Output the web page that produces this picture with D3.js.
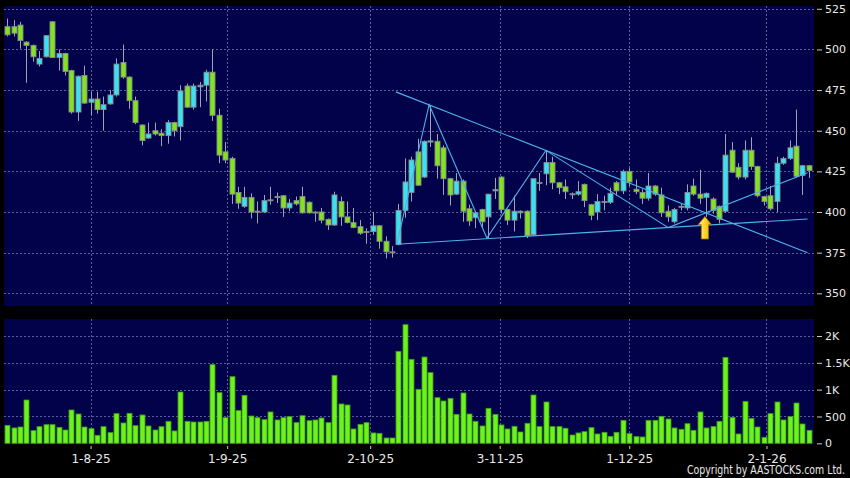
<!DOCTYPE html>
<html>
<head>
<meta charset="utf-8">
<script src="https://cdn.jsdelivr.net/npm/d3@7"></script>
<style>
  body { margin: 0; background: #000; }
  svg { display: block; font-family: "DejaVu Sans", sans-serif; }
</style>
</head>
<body>
<div id="chart"></div>
<script>
// daily bars, oldest first
var open = [514,514,515,504.5,502.5,491,495.5,517,495,497.5,
  487,461.5,484,467.5,469.5,463,466.5,472,492,483,
  468.5,453.5,445.5,450,448.5,447,455,452.5,477.5,464.5,
  477,478,486,459.5,437,433,412,403.5,409,400.5,
  400,407.5,409,410,402.5,407,409.5,406,400,400,
  395.5,392,406.5,397,393.5,391,388,388,391.5,382,
  375.5,380,401,412,437,421.5,443,443.5,439.5,420.5,
  411,419,402,396.5,401.5,397,413,421.5,401.5,395,
  399.5,400.5,386,418,423.5,430.5,418,415.5,411,411,
  417,404.5,400,406.5,406,418,413,425,414,412,
  408.5,416,410.5,400.5,394,403,402.5,416,411,409,
  408,403.5,400.5,438,427.5,421.5,438,428,409.5,410,
  406.5,430,433,440.5,422.5,428.5];
var high = [519,518,517,505,503,499,508.5,517.5,500,498,
  487.5,484,490,474,474,471,475,494.5,503,483.5,
  471,454,455,455,451,456.5,455.5,478,479,479,
  480,487.5,500,463.5,443,434,415.5,415.5,411.5,406.5,
  410.5,415.5,412,410.5,408,409.5,415.5,406.5,400.5,402.5,
  396,412.5,409.5,406.5,402.5,395,390,400,392,385,
  379,405,433,434,445,444,465.5,448,441,421,
  424,420,404.5,399.5,402,411,421,422,402,410,
  401,401,420.5,424,438,434,418.5,420,412,419,
  417.5,405,411,410,415,419,426,427,420,414,
  424,416.5,415,404,402.5,405,417,420.5,426,412,
  409,404,448,443,430,444,446,428.5,410,416,
  434,434,444,463,429,429];
var low = [508,508,500.5,479.5,492.5,489.5,495,495,487,484,
  460.5,456,466.5,459.5,460.5,450,466,471,482,463.5,
  454,441,445,447,440.5,442,446.5,444,464,463,
  464.5,468,456,430,430,405,402,402.5,396,393,
  399.5,404.5,405.5,397,400.5,404,399,399,394,393,
  389,391.5,391.5,393,390,386,380.5,386,377.5,371.5,
  372,379.5,396.5,406.5,416,421,440,420.5,410.5,404,
  410.5,394,391.5,390,390,384,408,399,392,388,
  396,384,385.5,413,416.5,414,411,408,408,410,
  403,395,395,401,405,410,411,416,411,405,
  407,410,397,394,393,401,401,410,405,397,
  399,393,399.5,424,420,420,426,409,404,401,
  400,429,432,421,410.5,421];
var close = [509,510,505.5,502.5,495.5,494.5,508.5,495,497.5,486.5,
  461.5,483.5,467,469.5,463,466,472,491,483,468.5,
  455,444,448,448,447,455,450,474.5,464.5,477.5,
  478,486,459.5,435,432,411,405.5,409,400,400,
  407,407,409.5,402.5,405.5,405,399.5,399.5,399.8,395,
  392,410.5,397,393.5,390.5,387,387.8,391.5,382,375.5,
  375,401,418.5,432,416.5,443.5,443.8,428.5,420.5,410.5,
  419,400.5,394.5,399.5,394,411,413.8,401.5,395,400.5,
  400.5,385.5,420.5,418.2,430.5,418,415,412.5,411.2,412.5,
  407,398,406.5,406.5,411.5,413,425,418.5,412.5,408.5,
  416,411,399.5,397,401.5,403.5,412,411,408.5,411.5,
  401,395.5,435,424.5,421.5,438,428,410,406.5,402,
  430,433,439.5,422,428.5,425.5];
var volume = [335,286,304,807,236,310,348,348,298,248,
  621,546,304,273,149,310,199,553,379,559,
  329,528,323,248,310,410,230,956,410,397,
  397,410,1466,944,478,1242,609,894,509,478,
  441,584,435,478,497,385,515,422,435,472,
  385,1267,733,714,267,354,385,193,186,99,
  99,1714,2211,1565,1006,1608,1317,851,789,838,
  540,938,546,410,323,652,540,342,267,317,
  211,373,900,311,770,311,311,280,155,193,
  217,292,174,205,130,205,428,180,124,118,
  428,428,503,453,286,261,366,242,584,286,
  311,410,1602,484,174,782,466,304,112,553,
  770,435,497,751,360,242];

// axis ticks
var dateLabels = ["1-8-25", "1-9-25", "2-10-25", "3-11-25", "1-12-25", "2-1-26"];
var dateIdx = [13, 34.3, 56.6, 76.8, 97, 118.4];
var priceTicks = [350, 375, 400, 425, 450, 475, 500, 525];
var volTicks = [0, 500, 1000, 1500, 2000];
var volLabels = ["0", "500", "1K", "1.5K", "2K"];

// drawn pattern lines, in (bar index, price)
var supportLine = [[60.75, 380.2], [124.8, 395.7]];
var resistLine = [[60.6, 473.9], [124.8, 375.0]];
var zigIdx = [60.75, 65.8, 74.8, 84.0, 103.1, 124.8];
var zigPrice = [380.2, 466.0, 384.0, 437.9, 390.4, 424.2];
var arrowIdx = 108.8, arrowPrice = 397.3;

var width = 850, height = 478;
var px = {left: 4, right: 814, top: 6, bottom: 306};
var vx = {top: 319, bottom: 444};

var svg = d3.select("#chart").append("svg")
    .attr("width", width)
    .attr("height", height);

svg.append("rect").attr("width", width).attr("height", height).attr("fill", "#000");

var x = d3.scaleLinear().domain([-0.5, open.length - 0.5]).range([4, 812]);
var y = d3.scaleLinear().domain([350, 525]).range([293.3, 8.8]);
var yv = d3.scaleLinear().domain([0, 2000]).range([443.3, 336]);

var navy = "#02024a", grid = "#5c5ca0";

// panels
svg.append("rect").attr("x", px.left).attr("y", px.top)
  .attr("width", px.right - px.left).attr("height", px.bottom - px.top).attr("fill", navy);
svg.append("rect").attr("x", px.left).attr("y", vx.top)
  .attr("width", px.right - px.left).attr("height", vx.bottom - vx.top).attr("fill", navy);

// grid
var g = svg.append("g").attr("stroke", grid).attr("stroke-dasharray", "2,2").attr("stroke-width", 1);
g.selectAll(".hp").data(priceTicks).enter().append("line")
  .attr("x1", px.left).attr("x2", px.right)
  .attr("y1", function (d) { return Math.round(y(d)) + 0.5; })
  .attr("y2", function (d) { return Math.round(y(d)) + 0.5; });
g.selectAll(".hv").data(volTicks.slice(1)).enter().append("line")
  .attr("x1", px.left).attr("x2", px.right)
  .attr("y1", function (d) { return Math.round(yv(d)) + 0.5; })
  .attr("y2", function (d) { return Math.round(yv(d)) + 0.5; });
g.selectAll(".vp").data(dateIdx).enter().append("line")
  .attr("x1", function (d) { return Math.round(x(d)) + 0.5; })
  .attr("x2", function (d) { return Math.round(x(d)) + 0.5; })
  .attr("y1", px.top).attr("y2", px.bottom);
g.selectAll(".vv").data(dateIdx).enter().append("line")
  .attr("x1", function (d) { return Math.round(x(d)) + 0.5; })
  .attr("x2", function (d) { return Math.round(x(d)) + 0.5; })
  .attr("y1", vx.top).attr("y2", vx.bottom);

// candles
var bars = d3.range(open.length);
var cg = svg.append("g");
cg.selectAll(".wick").data(bars).enter().append("line")
  .attr("x1", function (i) { return Math.round(x(i)) + 0.5; })
  .attr("x2", function (i) { return Math.round(x(i)) + 0.5; })
  .attr("y1", function (i) { return y(high[i]); })
  .attr("y2", function (i) { return y(low[i]); })
  .attr("stroke", "#a2a2b4").attr("stroke-width", 1);
cg.selectAll(".body").data(bars).enter().append("rect")
  .attr("x", function (i) { return Math.round(x(i)) - 2; })
  .attr("width", 5)
  .attr("y", function (i) { return y(Math.max(open[i], close[i])); })
  .attr("height", function (i) { return Math.max(1, Math.abs(y(open[i]) - y(close[i]))); })
  .attr("fill", function (i) { return close[i] >= open[i] ? "#38e2f2" : "#80e41e"; })
  .attr("stroke", "#8a8a8a").attr("stroke-width", 0.9);

// pattern lines
var lc = "#4cb2ea";
var lg = svg.append("g").attr("stroke", lc).attr("stroke-width", 1.1).attr("fill", "none");
[supportLine, resistLine].forEach(function (l) {
  lg.append("line")
    .attr("x1", x(l[0][0])).attr("y1", y(l[0][1]))
    .attr("x2", x(l[1][0])).attr("y2", y(l[1][1]));
});
lg.append("path")
  .attr("d", d3.line()
    .x(function (d, i) { return x(zigIdx[i]); })
    .y(function (d, i) { return y(zigPrice[i]); })(zigIdx));

// arrow
var defs = svg.append("defs");
var grad = defs.append("linearGradient").attr("id", "arr").attr("x1", 0).attr("x2", 1).attr("y1", 0).attr("y2", 0);
grad.append("stop").attr("offset", "0%").attr("stop-color", "#fff3a0");
grad.append("stop").attr("offset", "55%").attr("stop-color", "#ffd21e");
grad.append("stop").attr("offset", "100%").attr("stop-color", "#e89a00");
svg.append("path")
  .attr("transform", "translate(" + x(arrowIdx) + "," + y(arrowPrice) + ")")
  .attr("d", "M0,0 L6.8,8.3 L3.6,8.3 L3.6,22.6 L-3.6,22.6 L-3.6,8.3 L-6.8,8.3 Z")
  .attr("fill", "url(#arr)").attr("stroke", "#9a7000").attr("stroke-width", 0.8);

// volume
svg.append("g").selectAll("rect").data(bars).enter().append("rect")
  .attr("x", function (i) { return Math.round(x(i)) - 2; })
  .attr("width", 5)
  .attr("y", function (i) { return yv(volume[i]); })
  .attr("height", function (i) { return yv(0) - yv(volume[i]); })
  .attr("fill", "#6cf21c").attr("stroke", "#3f9a12").attr("stroke-width", 0.8);

// axes
function styleAxis(sel, size) {
  sel.select(".domain").remove();
  sel.selectAll(".tick line").attr("stroke", "#c8c8c8");
  sel.selectAll(".tick text").attr("fill", "#e8e8e8").attr("font-size", size)
    .attr("font-family", "DejaVu Sans, sans-serif");
}

svg.append("g")
  .attr("transform", "translate(817,0)")
  .call(d3.axisRight(y).tickValues(priceTicks).tickSize(5).tickPadding(3))
  .call(styleAxis, 11);

svg.append("g")
  .attr("transform", "translate(817,0)")
  .call(d3.axisRight(yv).tickValues(volTicks).tickSize(5).tickPadding(3)
    .tickFormat(function (d, i) { return volLabels[i]; }))
  .call(styleAxis, 11);

svg.append("g")
  .attr("transform", "translate(0,446)")
  .call(d3.axisBottom(x).tickValues(dateIdx).tickSize(3).tickPadding(5)
    .tickFormat(function (d, i) { return dateLabels[i]; }))
  .call(styleAxis, 12);

svg.append("text")
  .attr("x", 845).attr("y", 474)
  .attr("text-anchor", "end")
  .attr("font-size", 11.5)
  .attr("fill", "#e8e8e8")
  .attr("textLength", 158)
  .attr("lengthAdjust", "spacingAndGlyphs")
  .text("Copyright by AASTOCKS.com Ltd.");
</script>
</body>
</html>
